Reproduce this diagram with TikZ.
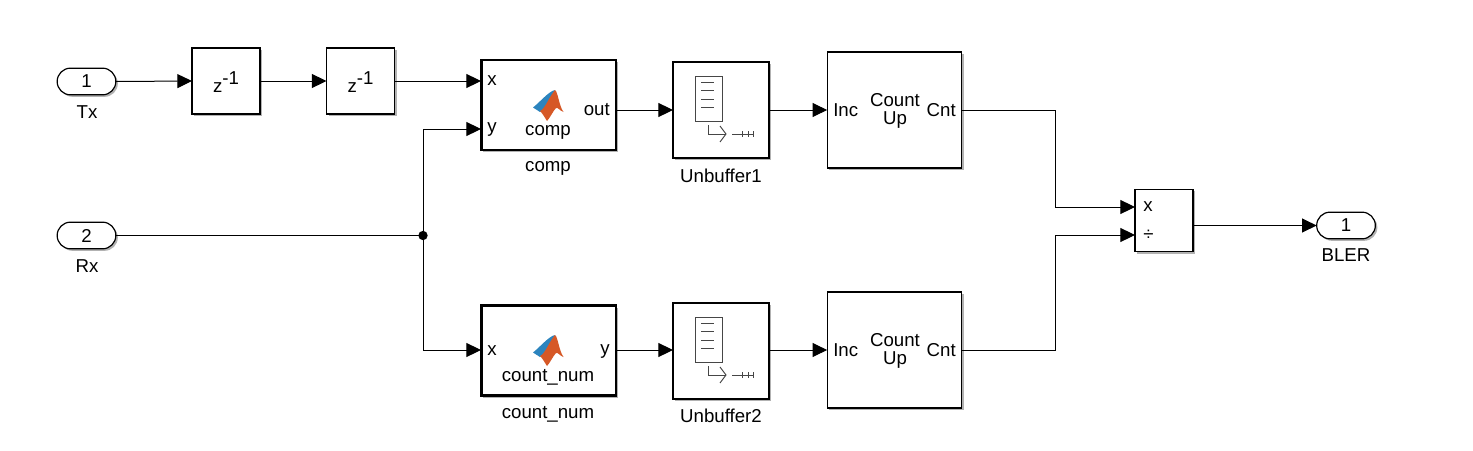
\documentclass[tikz,border=0pt]{standalone}
\usepackage{fontspec}
\setmainfont{Liberation Sans}
\usetikzlibrary{arrows.meta, shadows}
\definecolor{logoorange}{RGB}{214,88,38}
\definecolor{logoblue}{RGB}{44,132,190}
\definecolor{icongray}{RGB}{70,70,70}
\tikzset{
matlogo/.pic={
\fill[logoblue] (-15,1.5) .. controls (-9,-3) and (1,-15) .. (7,-16) -- (2,-6) -- (-3,3) -- (-8,6) -- cycle;
\fill[logoorange] (7,-16) .. controls (10,-14) and (11,0) .. (15.5,6) .. controls (12,5) and (10,1) .. (8,2) .. controls (5,5) and (2,12) .. (-1,15) .. controls (-3,12) and (-5,8) .. (-8,5) .. controls (-3,3) and (1,-9) .. (7,-16) -- cycle;
},
bufferglyph/.pic={
\draw[icon] (-26,-34) rectangle (1,11);
\foreach \y in {-28,-20,-11,-3} { \draw[icon] (-20,\y) -- (-7,\y); }
\draw[icon] (-13,15) -- (-13,24) -- (5,24);
\draw[icon] (-1,16) -- (5,24) -- (-1,32);
\draw[icon] (11,24) -- (33,24);
\foreach \x in {21,27,32} { \draw[icon] (\x,21) -- (\x,27); }
}
}
\begin{document}
\begin{tikzpicture}[
x=0.75pt, y=-0.75pt,
% blocks
block/.style={draw, fill=white, outer sep=0, inner sep=0, line width=0.9pt, drop shadow={shadow xshift=1.5pt, shadow yshift=-1.5pt, fill=black!60, opacity=0.5}},
delay/.style={block, minimum width=51pt, minimum height=49.5pt},
fcn/.style={block, line width=2pt, minimum width=101pt, minimum height=67.5pt},
buff/.style={block, minimum width=72pt, minimum height=72pt},
counter/.style={block, minimum width=101pt, minimum height=87pt},
product/.style={block, minimum width=43.5pt, minimum height=47pt},
port/.style={block, rounded corners=10pt, minimum width=44pt, minimum height=20pt, font=\fontsize{14}{16}\selectfont},
% wires
wire/.style={line width=0.75pt, -{Triangle[length=11pt,width=10.5pt]}},
plain/.style={line width=0.75pt},
junc/.style={circle, fill, inner sep=0, minimum size=7pt},
% icon lines
icon/.style={line width=0.7pt, icongray},
% annotations
annot/.style={font=\fontsize{14}{16}\selectfont, inner sep=0},
annotL/.style={annot, anchor=west},
annotR/.style={annot, anchor=east}
]

\useasboundingbox (0,0) rectangle (1473,450);

% BLOCKS

\node[port] (tx) at (86.5,81.5) {1};
\node[port] (rx) at (86.5,235.5) {2};
\node[port] (bler) at (1346,225.5) {1};
\node[delay] (zone) at (226,81) {};
\node[delay] (ztwo) at (360.5,81) {};
\node[fcn] (comp) at (548.5,105) {};
\node[fcn] (countnum) at (548.5,350.5) {};
\node[buff] (unbufA) at (721,110) {};
\node[buff] (unbufB) at (721,351) {};
\node[counter] (cntA) at (894.5,110) {};
\node[counter] (cntB) at (894.5,350) {};
\node[product] (prod) at (1164,220.5) {};

% PORT COORDINATES

\coordinate (compx) at (481,81);
\coordinate (compy) at (481,129);
\coordinate (compout) at (616,110);
\coordinate (countx) at (481,350);
\coordinate (countout) at (616,350);
\coordinate (prodx) at (1135,207);
\coordinate (proddiv) at (1135,235);
\coordinate (prodout) at (1193,225.5);
\coordinate (elbowA) at (1055,207);
\coordinate (elbowB) at (1055,235);
\node[junc] (rxjoin) at (423,235.5) {};

% WIRES

\draw[wire] (tx.east) -- (zone.west);
\draw[wire] (zone.east) -- (ztwo.west);
\draw[wire] (ztwo.east) -- (compx);
\draw[plain] (rx.east) -- (rxjoin.center);
\draw[wire] (rxjoin.center) |- (compy);
\draw[wire] (rxjoin.center) |- (countx);
\draw[wire] (compout) -- (compout-|unbufA.west);
\draw[wire] (countout) -- (countout-|unbufB.west);
\draw[wire] (unbufA.east) -- (cntA.west);
\draw[wire] (unbufB.east|-cntB) -- (cntB.west);
\draw[wire] (cntA.east) -| (elbowA) -- (prodx);
\draw[wire] (cntB.east) -| (elbowB) -- (proddiv);
\draw[wire] (prodout) -- (prodout-|bler.west);

% ICONS

\pic at (548,106) {matlogo};
\pic at (548,351) {matlogo};
\pic at (721,110) {bufferglyph};
\pic at (721,351) {bufferglyph};

% ANNOTATIONS

\node[annot] (zonetxt) at (226,82) {z\raisebox{5.5pt}{-1}};
\node[annot] (ztwotxt) at (360.5,82) {z\raisebox{5.5pt}{-1}};
\node[annot] (txname) at (87,112) {Tx};
\node[annot] (rxname) at (87,266) {Rx};
\node[annot] (blername) at (1346,255) {BLER};
\node[annotL] (compxtxt) at (487,81) {x};
\node[annotL] (compytxt) at (487,130) {y};
\node[annotR] (compouttxt) at (610,110) {out};
\node[annot] (comptxt) at (548,132) {comp};
\node[annot] (compname) at (548,168) {comp};
\node[annotL] (countxtxt) at (487,351) {x};
\node[annotR] (countytxt) at (610,351) {y};
\node[annot] (counttxt) at (548,377) {count\_num};
\node[annot] (countname) at (548,414) {count\_num};
\node[annot] (unbufAname) at (721,176) {Unbuffer1};
\node[annot] (unbufBname) at (721,416) {Unbuffer2};
\node[annotL] (incA) at (833,110) {Inc};
\node[annotR] (outA) at (956,110) {Cnt};
\node[annot, align=center] (upA) at (895,111) {Count\\[-2.5pt]Up};
\node[annotL] (incB) at (833,350) {Inc};
\node[annotR] (outB) at (956,350) {Cnt};
\node[annot, align=center] (upB) at (895,351) {Count\\[-2.5pt]Up};
\node[annotL] (prodxtxt) at (1143,207) {x};
\node[annotL] (proddivtxt) at (1143,235) {÷};

\end{tikzpicture}
\end{document}
